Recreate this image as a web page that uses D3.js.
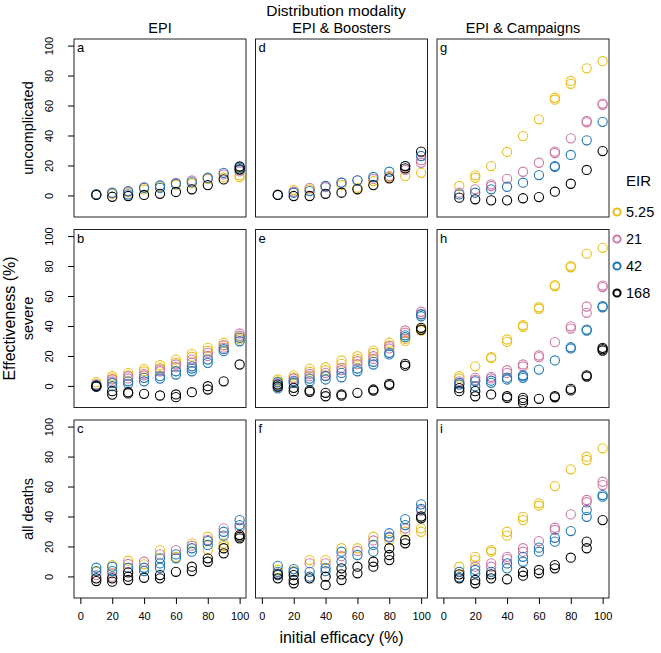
<!DOCTYPE html>
<html>
<head>
<meta charset="utf-8">
<script src="https://cdn.jsdelivr.net/npm/d3@7"></script>
<style>
  body { margin: 0; background: #fff; }
  svg text { font-family: "Liberation Sans", Arial, Helvetica, sans-serif; }
</style>
</head>
<body>
<svg id="chart" width="661" height="653"></svg>
<script>
// x values (initial efficacy, %)
const efficacy = [10, 20, 30, 40, 50, 60, 70, 80, 90, 100];
const eirLevels = ["5.25", "21", "42", "168"];
const eirColors = ["#E9BF1C", "#CC79A7", "#1F78B4", "#000000"];
const outcomes = ["uncomplicated", "severe", "all deaths"];
const modalities = ["EPI", "EPI & Boosters", "EPI & Campaigns"];
const yTicks = [0, 20, 40, 60, 80, 100];
const xTicks = [0, 20, 40, 60, 80, 100];

// each panel: one row per EIR, one entry per efficacy, each entry = replicate values
const panelA = [
  [[0.5], [1], [2], [4], [5.5], [7], [8], [10.9], [12], [12.3, 13.5]],
  [[0.5], [1.5], [2.5], [5.5], [6.5], [8.3], [10], [11.5], [14], [16]],
  [[0.8], [1.8], [2.9, 0.7], [5.1], [6.7, 5.1], [7.8], [8.9], [11.8], [15.1], [18.5, 17]],
  [[0.3], [-0.9], [-0.4], [0.3], [1.1], [2.3], [4.1], [6.9], [10.7], [17.4, 19.3]]
];
const panelD = [
  [[0.3], [3.6], [4], [6.3], [7], [5.1], [9.6], [12.3], [12.9], [15.1]],
  [[0.3], [2.5], [5.1], [5.5], [8.5], [10.1], [11], [12.9], [17], [21.8, 23.5]],
  [[0.5], [1.8], [2.9], [6.3], [8.5], [10.1], [12.3], [15.8], [19.6], [26.3]],
  [[0.3], [-0.4], [-0.4], [1.1], [1.8], [4.1], [6.9], [11.4], [18.1, 19.6], [29.2]]
];
const panelG = [
  [[6.3], [13.4, 11.8], [19.6], [29], [39.6], [50.8], [65.2, 63.9], [76.4, 74.5], [84.8], [89.6]],
  [[1.8], [4.1], [7.4, 6.3], [11.1], [15.8], [21.8], [29.2, 28.3], [38.1], [49.7, 48.8], [61.3, 60.5]],
  [[0.7], [1.8], [4.1], [5.8], [8.5], [13.6], [19.6, 19], [27], [36.8], [49.1]],
  [[-1.5], [-2.6], [-3.3], [-3.3], [-1.9], [-1.1], [2.5], [7.8], [17], [29.6]]
];
const panelB = [
  [[2.5, 1], [6.5, 5], [8.7, 7], [11.4, 9.8], [13.8, 12], [17.6, 15.5], [21.4, 19.5], [25.4, 23.5], [28.8, 27], [33, 31]],
  [[1, 0], [4.3, 3], [6.5, 5], [8.1, 7], [9.8, 11], [14.3, 12.5], [17.6, 15.5], [22.1, 20], [27.2, 25.5], [35, 33.5]],
  [[0.5, -0.5], [2, -0.2], [3.1, 1.4], [5.4, 3.1], [6.5, 4.9], [9.8, 7.6], [13.1, 11.6, 9.8], [17.6, 15.4], [23.2, 24.5], [32.1, 29.8]],
  [[-0.5, 0], [-3.5, -5.8], [-4.2, -5], [-5.3], [-6.4], [-5.7, -7.5], [-4.2], [-0.2, -2.4], [3.1], [14.3]]
];
const panelE = [
  [[3.1, 4.3], [7.1, 5.5], [11.6, 9.5], [12.5, 10.5], [17, 14.7], [19.8, 18], [23.6, 22], [28.8, 27], [31.4, 30], [37, 38.5]],
  [[1.5, -1], [5, 3.5], [8, 6.5], [8.7, 7], [12.1, 10.5], [16.5, 14.5], [19.8, 18], [26.5, 25], [37, 35.5], [49.5, 48]],
  [[2.5, -0.2, -1.7], [3.1, 2], [4.9, 3.1], [6.5, 4.3], [8.7, 5.8], [11.6, 9.8], [16.1, 14.3], [22.1, 21], [33.8, 32.5], [47.7, 46.5]],
  [[0.9, -0.5], [-1.3, -3.5], [-3.9, -3], [-4.6, -6.9], [-5.7, -6.5], [-4.6], [-2.4, -3.2], [1.4, 0.5], [14.7, 13.5], [38.8, 37.5]]
];
const panelH = [
  [[6.5, 5], [13.1], [19.2, 18.5], [31, 29.4], [40.5, 39.5], [52.5, 51.5], [67.3, 66.5], [80, 79.2], [88.3], [92.2]],
  [[3.1, 2], [5.4, 4], [6.1, 5], [10.5, 8.7], [14.3, 13], [20.3, 19.2], [29.2], [39.8, 38.3], [53, 48.8], [67, 66]],
  [[0.9, 2], [3.1, -0.2], [2.1, 3.5], [4.3, 5.5], [7.1, 5.4, 6.5], [10.9], [17], [25.8, 25], [37.6, 37], [53.2, 52.5]],
  [[-3.5, -1.5], [-3.5, -6.9], [-5.7], [-6.9, -8], [-8, -11.3, -9.5], [-8.6], [-6.9, -7.6], [-2, -3], [7.1, 6.3], [25.4, 23.6, 24.5]]
];
const panelC = [
  [[3], [7.6], [10.5], [8.1], [17.6], [13], [22.1], [26.5, 17.6], [20.3, 22], [27.6]],
  [[0.9], [2.1, -0.2], [8.3], [9.8], [14.7], [17.6], [20.5], [24.3], [32.1], [32.5]],
  [[5.8, 3.6], [6.5, 3.6], [5.8], [5.8, 3.6], [12.1, 8.7, 5.8], [14.7, 12.1], [18.8, 16.5], [23.6, 21], [29.8, 27.2], [37.6, 34.3]],
  [[-1.3, -3.1], [-1.3, -3.5], [2.7, -0.2, -2.4], [-0.9], [0.9, -1.3], [3.1], [6.5, 3.6], [12.1, 9.8], [18.8, 15.4], [25.4, 27.6, 26.5]]
];
const panelF = [
  [[4.5], [3.5], [10.9], [10.9], [18.8], [18.8], [26.5], [24.3], [29.8], [32.1, 29.8]],
  [[2], [3], [8.7], [8.7], [13.5], [17], [24], [26.5], [32], [44]],
  [[7.1, 3.1, 0.9], [4.9, 3], [3.1, -0.2], [5.5, 3.5], [16.5, 9.8], [14.3], [21, 16.5], [28.8, 26], [38.3, 34.3], [48.1, 45]],
  [[1.4, -1.3], [0.9, -2.4, -4.6], [-1.3], [-0.2, -5.7], [5.4, 1.4, -2.4], [6.5, 2.1], [9.8, 6.5], [18.8, 14.3, 10.9], [24.3, 22.1], [38.8, 40]]
];
const panelI = [
  [[6.5], [13.1, 10.9], [17.6, 16.5], [29.8, 27.2], [39.8, 37.6], [48.8, 47.2], [60.3], [71.5], [79.9, 77.7], [85.5]],
  [[3.1], [6.5], [8.7, 6.5], [13.1, 11.6], [18.8, 16.5], [23.6], [32.5, 31], [41.4], [51, 49.5], [63.2, 61]],
  [[3.1, -0.5], [4.3, 2.1], [3.1], [8.7, 5.4], [13.1, 9.8], [19.2, 16.5], [25.8, 23.2], [30.3], [44.3, 39.8], [54.3, 53.2]],
  [[1.4, -1.3], [-2.4, -4.6], [1.4, -1.3], [-1.9], [3.1, 0.5], [4.3, 2.1], [7.6, 5.4], [12.5], [23.2, 18.8], [37.6]]
];

// rows = outcome, cols = modality
const panels = [
  [panelA, panelD, panelG],
  [panelB, panelE, panelH],
  [panelC, panelF, panelI]
];
const letters = [["a", "d", "g"], ["b", "e", "h"], ["c", "f", "i"]];

const colLeft = [74, 255.5, 437];
const rowTop = [39, 229.5, 420];
const pw = 172, ph = 178;

const svg = d3.select("#chart");

svg.append("text")
  .attr("x", 336).attr("y", 16)
  .attr("text-anchor", "middle").attr("font-size", 15.5)
  .text("Distribution modality");

modalities.forEach((m, c) => {
  svg.append("text")
    .attr("x", colLeft[c] + pw / 2).attr("y", 33)
    .attr("text-anchor", "middle").attr("font-size", 14.5)
    .text(m);
});

svg.append("text")
  .attr("transform", `translate(15, ${(rowTop[0] + rowTop[2] + ph) / 2}) rotate(-90)`)
  .attr("text-anchor", "middle").attr("font-size", 16)
  .text("Effectiveness (%)");

svg.append("text")
  .attr("x", (colLeft[0] + colLeft[2] + pw) / 2).attr("y", 643)
  .attr("text-anchor", "middle").attr("font-size", 16)
  .text("initial efficacy (%)");

panels.forEach((row, r) => {
  row.forEach((panel, c) => {
    const x = d3.scaleLinear().domain([-4, 104]).range([colLeft[c], colLeft[c] + pw]);
    const y = d3.scaleLinear().domain([-14.4, 104.4]).range([rowTop[r] + ph, rowTop[r]]);

    const pts = [];
    panel.forEach((series, k) => {
      series.forEach((vals, i) => {
        vals.forEach(v => pts.push({ x: efficacy[i], v, k }));
      });
    });

    svg.append("g").selectAll("circle")
      .data(pts).enter().append("circle")
      .attr("cx", d => x(d.x))
      .attr("cy", d => y(d.v))
      .attr("r", 4.6)
      .attr("fill", "none")
      .attr("stroke", d => eirColors[d.k])
      .attr("stroke-width", 1.1);

    svg.append("rect")
      .attr("x", colLeft[c]).attr("y", rowTop[r])
      .attr("width", pw).attr("height", ph)
      .attr("fill", "none").attr("stroke", "#222").attr("stroke-width", 1);

    svg.append("text")
      .attr("x", colLeft[c] + 3).attr("y", rowTop[r] + 13)
      .attr("font-size", 13)
      .text(letters[r][c]);

    if (c === 0) {
      const ay = svg.append("g")
        .attr("transform", `translate(${colLeft[0]},0)`)
        .call(d3.axisLeft(y).tickValues(yTicks).tickSize(6).tickSizeOuter(0));
      ay.select(".domain").remove();
      ay.selectAll("text")
        .attr("transform", "rotate(-90)")
        .attr("x", 0).attr("y", -21).attr("dy", 0)
        .attr("text-anchor", "middle")
        .attr("font-size", 11).attr("font-family", null);

      svg.append("text")
        .attr("transform", `translate(33, ${rowTop[r] + ph / 2}) rotate(-90)`)
        .attr("text-anchor", "middle").attr("font-size", 14.5)
        .text(outcomes[r]);
    }
    if (r === 2) {
      const ax = svg.append("g")
        .attr("transform", `translate(0,${rowTop[2] + ph})`)
        .call(d3.axisBottom(x).tickValues(xTicks).tickSize(6).tickSizeOuter(0));
      ax.select(".domain").remove();
      ax.selectAll("text")
        .attr("y", 14)
        .attr("font-size", 11).attr("font-family", null);
    }
  });
});

// legend
const legend = svg.append("g");
legend.append("text")
  .attr("x", 626).attr("y", 186)
  .attr("font-size", 15)
  .text("EIR");
eirLevels.forEach((lab, k) => {
  const ly = 212 + k * 27;
  legend.append("circle")
    .attr("cx", 617).attr("cy", ly)
    .attr("r", 3.6)
    .attr("fill", "none")
    .attr("stroke", eirColors[k]).attr("stroke-width", 2);
  legend.append("text")
    .attr("x", 626).attr("y", ly + 5)
    .attr("font-size", 14.5)
    .text(lab);
});
</script>
</body>
</html>
